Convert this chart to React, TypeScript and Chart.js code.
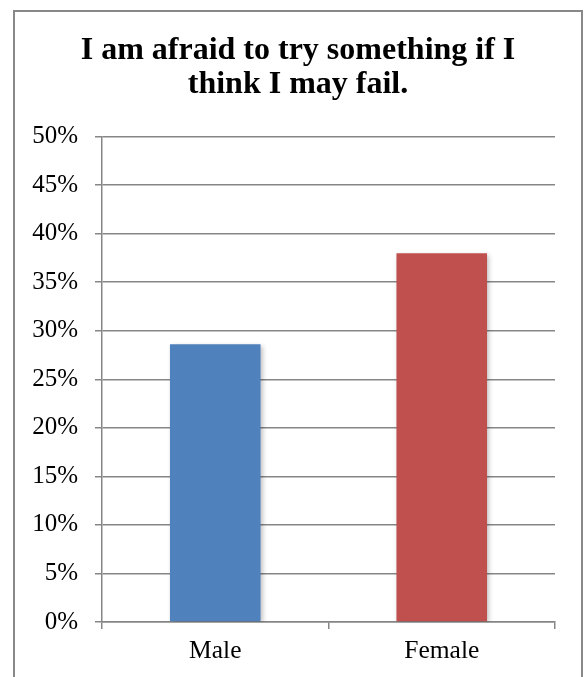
import React, { useEffect, useRef } from "react";
import { Chart, registerables } from "chart.js";

Chart.register(...registerables);

const titleLines = ["I am afraid to try something if I", "think I may fail."];
const categories = ["Male", "Female"];
const values = [28.6, 38.0];
const barColors = ["#4F81BD", "#C0504D"];
const yMax = 50;
const yStep = 5;

const shadowPlugin = {
  id: "barShadow",
  beforeDatasetDraw(chart: any) {
    const ctx = chart.ctx;
    ctx.save();
    ctx.shadowColor = "rgba(0,0,0,0.28)";
    ctx.shadowBlur = 5;
    ctx.shadowOffsetX = 2;
    ctx.shadowOffsetY = 2;
  },
  afterDatasetDraw(chart: any) {
    chart.ctx.restore();
  },
};

const serif = "'Liberation Serif', 'Times New Roman', serif";

export default function App() {
  const ref = useRef<HTMLCanvasElement | null>(null);

  useEffect(() => {
    if (!ref.current) return;
    const gray = "#868686";
    const chart = new Chart(ref.current, {
      type: "bar",
      data: {
        labels: categories,
        datasets: [
          {
            data: values,
            backgroundColor: barColors,
            borderWidth: 0,
            categoryPercentage: 1,
            barPercentage: 0.4,
          },
        ],
      },
      plugins: [shadowPlugin],
      options: {
        responsive: false,
        animation: false,
        devicePixelRatio: 1,
        layout: { padding: 0 },
        plugins: {
          legend: { display: false },
          tooltip: { enabled: false },
          title: {
            display: true,
            text: titleLines,
            color: "#000",
            font: { family: serif, size: 32, weight: "bold", lineHeight: 1.06 },
            padding: { top: 22, bottom: 34.8 },
          },
        },
        scales: {
          x: {
            grid: {
              display: true,
              drawOnChartArea: false,
              drawTicks: true,
              tickLength: 7,
              offset: true,
              color: gray,
              lineWidth: 1.5,
            },
            border: { display: true, color: gray, width: 1.5 },
            ticks: {
              color: "#000",
              padding: 7,
              font: { family: serif, size: 25.5, lineHeight: 1.2 },
            },
            afterFit(scale: any) {
              scale.height = 55;
            },
          },
          y: {
            min: 0,
            max: yMax,
            grid: {
              color: gray,
              lineWidth: 1.5,
              drawTicks: true,
              tickLength: 7,
            },
            border: { display: true, color: gray, width: 1.5 },
            ticks: {
              stepSize: yStep,
              color: "#000",
              padding: 17,
              font: { family: serif, size: 25 },
              callback: (v: any) => v + "%",
            },
            afterFit(scale: any) {
              scale.width = 87;
            },
          },
          spacer: {
            type: "linear",
            position: "right",
            display: true,
            grid: { display: false },
            border: { display: false },
            ticks: { display: false },
            afterFit(scale: any) {
              scale.width = 26;
            },
          },
        },
      },
    });
    return () => chart.destroy();
  }, []);

  return (
    <div
      style={{
        position: "absolute",
        left: 0,
        top: 0,
        width: 584,
        height: 677,
        overflow: "hidden",
        background: "#fff",
      }}
    >
      <div
        style={{
          position: "absolute",
          left: 13,
          top: 10,
          width: 566,
          height: 700,
          border: "2px solid #888",
          background: "#fff",
        }}
      >
        <canvas ref={ref} width={566} height={665} style={{ display: "block", width: 566, height: 665 }} />
      </div>
    </div>
  );
}
